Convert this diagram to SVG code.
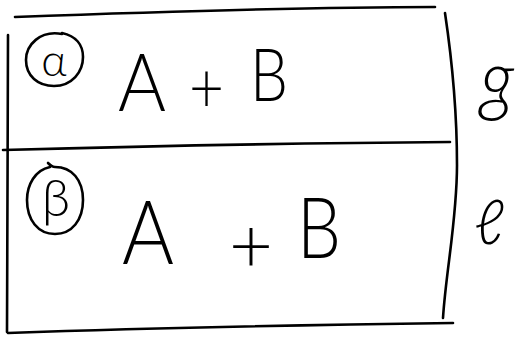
<svg xmlns="http://www.w3.org/2000/svg" width="518" height="337" viewBox="0 0 518 337">
<style>
.ln{fill:none;stroke:#000;stroke-width:2.6;stroke-linecap:round;stroke-linejoin:round}
.t{font-family:"Lato","Liberation Sans","DejaVu Sans",sans-serif;font-weight:300;fill:#000}
</style>
<rect width="518" height="337" fill="#fff"/>
<g id="frame">
<path class="ln" d="M15,17 C150,12 300,7 435,7"/>
<path class="ln" d="M8,35 C8,130 7,240 7,332"/>
<path class="ln" d="M3,150 C150,146 300,143 450,142"/>
<path class="ln" d="M445,13 C452,60 457,110 457,165 C457,220 446,270 443,318"/>
<path class="ln" d="M8,333 C150,328 300,325 453,323"/>
</g>
<g id="row-alpha">
<path class="ln" d="M62,34 C40,30 26,45 26,60 C26,76 38,86 54,86 C72,86 83,72 83,57 C83,45 76,36 62,33"/>
<text class="t" x="54" y="76" font-size="44" text-anchor="middle">α</text>
<text class="t" x="118" y="111" font-size="80" textLength="48" lengthAdjust="spacingAndGlyphs">A</text>
<text class="t" x="189" y="113" font-size="70" textLength="35" lengthAdjust="spacingAndGlyphs">+</text>
<text class="t" x="250" y="101" font-size="72" textLength="38" lengthAdjust="spacingAndGlyphs">B</text>
</g>
<g id="row-beta">
<path class="ln" d="M50,167 C35,170 27,185 27,200 C27,220 38,234 55,234 C72,234 83,220 83,200 C83,180 72,167 55,167 C52,167 50,165 48,163"/>
<text class="t" x="56" y="216" font-size="52" text-anchor="middle">β</text>
<text class="t" x="122" y="264" font-size="88" textLength="52" lengthAdjust="spacingAndGlyphs">A</text>
<text class="t" x="229" y="272" font-size="76" textLength="44" lengthAdjust="spacingAndGlyphs">+</text>
<text class="t" x="297" y="258" font-size="84" textLength="44" lengthAdjust="spacingAndGlyphs">B</text>
</g>
<g id="labels">
<text class="t" x="480" y="106" font-size="78" font-style="italic" textLength="34" lengthAdjust="spacingAndGlyphs">g</text>
<text class="t" x="474" y="244" font-size="62">ℓ</text>
</g>
</svg>
